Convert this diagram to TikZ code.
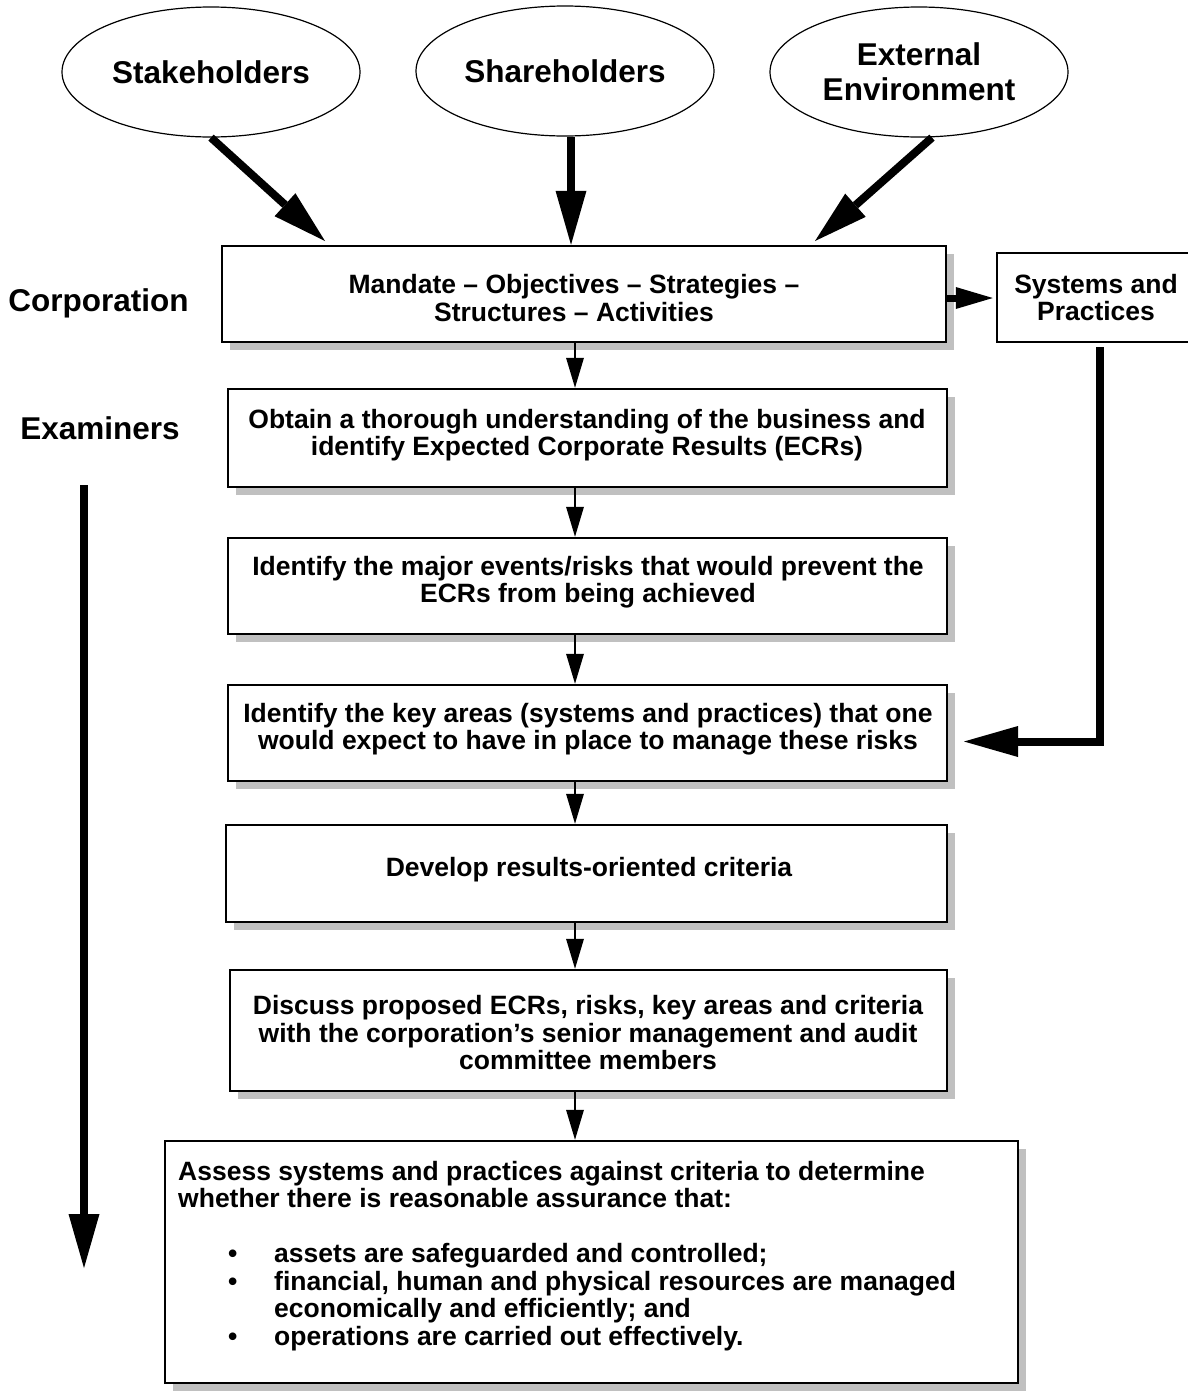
\documentclass[tikz,border=0pt]{standalone}
\usepackage{fontspec}
\setmainfont{Liberation Sans}
\usetikzlibrary{arrows.meta,shapes.geometric,shadows,calc}
\definecolor{shade}{RGB}{192,192,192}
\tikzset{
  boxfont/.style={font=\fontsize{26.5}{27.5}\selectfont\bfseries},
  bigfont/.style={font=\fontsize{31.5}{35}\selectfont\bfseries},
  stepbox/.style={draw=black, line width=2.5pt, fill=white, inner sep=0pt,
    drop shadow={shadow xshift=8pt, shadow yshift=-8pt, fill=shade, opacity=1}},
  plainbox/.style={draw=black, line width=2.5pt, fill=white, inner sep=0pt},
  source/.style={ellipse, draw=black, line width=1.2pt, fill=white, inner sep=0pt,
    minimum width=298pt, minimum height=130pt, bigfont, align=center},
  boxtext/.style={boxfont, align=center, inner sep=0pt},
  flow/.style={line width=2.5pt, -{Triangle[length=30pt,width=18pt,line width=0pt]}},
  heavy/.style={line width=8pt, -{Triangle[length=54pt,width=31pt,line width=0pt]}},
  medium/.style={line width=7pt, -{Triangle[length=37pt,width=22pt,line width=0pt]}},
}
\begin{document}
\begin{tikzpicture}[x=1pt,y=-1pt]
\fill[white] (0,0) rectangle (1188,1395);
\useasboundingbox (0,0) rectangle (1188,1395);

% outside influences
\node[source] (st) at (211,72) {Stakeholders};
\node[source] (sh) at (565,71) {Shareholders};
\node[source] (ex) at (919,72) {External\\Environment};

% side labels
\node[bigfont, inner sep=0pt] (corp) at (98.5,303) {Corporation};
\node[bigfont, inner sep=0pt] (exam) at (100,428) {Examiners};

% corporation level
\node[stepbox, minimum width=724pt, minimum height=96pt] (b1) at (584,294) {};
\node[boxtext] (b1t) at (574,298) {Mandate – Objectives – Strategies –\\Structures – Activities};
\node[plainbox, minimum width=198pt, minimum height=89pt, boxfont, align=center] (sys) at (1096,297.5) {Systems and\\Practices};

% examination steps
\node[stepbox, minimum width=719pt, minimum height=98pt] (b2) at (587.5,438) {};
\node[boxtext] (b2t) at (587,435) {Obtain a thorough understanding of the business and\\identify Expected Corporate Results (ECRs)};

\node[stepbox, minimum width=719pt, minimum height=96pt] (b3) at (587.5,586) {};
\node[boxtext] (b3t) at (588,582) {Identify the major events/risks that would prevent the\\ECRs from being achieved};

\node[stepbox, minimum width=719pt, minimum height=96pt] (b4) at (587.5,733) {};
\node[boxtext] (b4t) at (588,729) {Identify the key areas (systems and practices) that one\\would expect to have in place to manage these risks};

\node[stepbox, minimum width=721pt, minimum height=97pt] (b5) at (586.5,873.5) {};
\node[boxtext] (b5t) at (589,870) {Develop results-oriented criteria};

\node[stepbox, minimum width=717pt, minimum height=121pt] (b6) at (588.5,1030.5) {};
\node[boxtext] (b6t) at (588,1033) {Discuss proposed ECRs, risks, key areas and criteria\\with the corporation’s senior management and audit\\committee members};

\node[stepbox, minimum width=853pt, minimum height=242pt] (b7) at (591.5,1262) {};
\node[boxfont, align=left, anchor=north west, inner sep=0pt] (b7t) at (178,1161) {%
Assess systems and practices against criteria to determine\\
whether there is reasonable assurance that:\\[27.5pt]
\hspace*{50pt}\makebox[46pt][l]{•}assets are safeguarded and controlled;\\
\hspace*{50pt}\makebox[46pt][l]{•}financial, human and physical resources are managed\\
\hspace*{96pt}economically and efficiently; and\\
\hspace*{50pt}\makebox[46pt][l]{•}operations are carried out effectively.};

% influences into the corporation
\coordinate (in1) at (325,241);
\coordinate (in3) at (815,241);
\coordinate (sx) at (571,0);
\draw[heavy] (st.south) -- (in1);
\draw[heavy] (sh.south -| sx) -- (b1.north -| sx);
\draw[heavy] ($(ex.south)+(13,0)$) -- (in3);

% corporation to systems and practices
\coordinate (my) at (0,298);
\draw[medium, shorten >=3pt] (b1.east |- my) -- (sys.west |- my);

% systems and practices feed the key areas
\coordinate (vx) at (1100,0);
\coordinate (in4) at (964,741.5);
\draw[heavy, line join=miter, shorten <=4pt] (sys.south -| vx) |- (in4);

% flow of the examination
\coordinate (ax) at (575,0);
\draw[flow] (b1.south -| ax) -- (b2.north -| ax);
\draw[flow] (b2.south -| ax) -- (b3.north -| ax);
\draw[flow] (b3.south -| ax) -- (b4.north -| ax);
\draw[flow] (b4.south -| ax) -- (b5.north -| ax);
\draw[flow] (b5.south -| ax) -- (b6.north -| ax);
\draw[flow] (b6.south -| ax) -- (b7.north -| ax);

% examiners' progression
\coordinate (lt) at (84,485);
\coordinate (lb) at (84,1268);
\draw[heavy] (lt) -- (lb);
\end{tikzpicture}
\end{document}
